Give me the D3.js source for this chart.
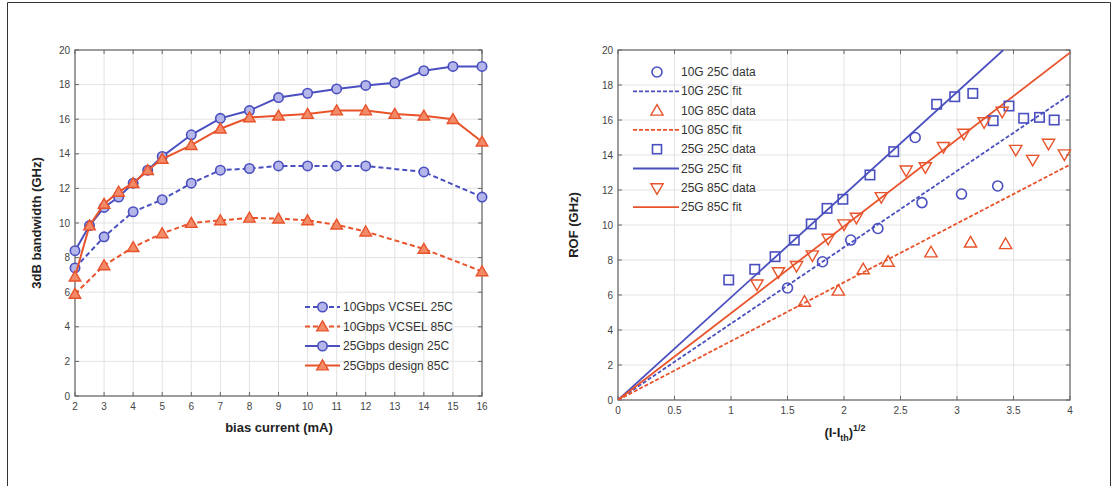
<!DOCTYPE html>
<html><head><meta charset="utf-8">
<script src="https://cdn.jsdelivr.net/npm/d3@7"></script>
<style>body{margin:0;background:#fff}svg{display:block}text{font-family:"Liberation Sans",Arial,sans-serif}</style>
</head><body><svg id="c" width="1117" height="486"></svg>
<script>
// ---------- Left chart data ----------
const biasSolid = [2,2.5,3,3.5,4,4.5,5,6,7,8,9,10,11,12,13,14,15,16];
const biasDashed = [2,3,4,5,6,7,8,9,10,11,12,14,16];
const bw10G25C = [7.4,9.2,10.65,11.35,12.3,13.05,13.15,13.3,13.3,13.3,13.3,12.95,11.5];
const bw10G85C = [5.9,7.55,8.6,9.4,10.0,10.15,10.3,10.25,10.15,9.9,9.5,8.5,7.2];
const bw25G25C = [8.4,9.85,10.9,11.5,12.3,13.05,13.85,15.1,16.05,16.5,17.25,17.5,17.75,17.95,18.1,18.8,19.05,19.05];
const bw25G85C = [6.9,9.85,11.1,11.8,12.3,13.05,13.7,14.5,15.45,16.1,16.2,16.3,16.5,16.5,16.3,16.2,16.0,14.7];
const leftLegend = ["10Gbps VCSEL 25C","10Gbps VCSEL 85C","25Gbps design 25C","25Gbps design 85C"];
const leftXTicks = [2,3,4,5,6,7,8,9,10,11,12,13,14,15,16];
const leftYTicks = [0,2,4,6,8,10,12,14,16,18,20];

// ---------- Right chart data ----------
const rof10G25CX = [1.5,1.81,2.06,2.30,2.63,2.69,3.04,3.36];
const rof10G25CY = [6.4,7.9,9.14,9.8,15.0,11.28,11.77,12.23];
const rof10G85CX = [1.65,1.95,2.17,2.39,2.77,3.12,3.43];
const rof10G85CY = [5.62,6.25,7.47,7.9,8.44,9.0,8.91];
const rof25G25CX = [0.98,1.21,1.39,1.56,1.71,1.85,1.99,2.23,2.44,2.82,2.98,3.14,3.32,3.46,3.59,3.73,3.86];
const rof25G25CY = [6.86,7.47,8.19,9.14,10.06,10.95,11.47,12.86,14.19,16.9,17.33,17.52,15.96,16.8,16.1,16.15,16.0];
const rof25G85CX = [1.23,1.42,1.58,1.72,1.86,2.0,2.11,2.33,2.55,2.72,2.88,3.06,3.24,3.4,3.52,3.67,3.81,3.95];
const rof25G85CY = [6.63,7.33,7.68,8.29,9.24,10.06,10.44,11.62,13.14,13.33,14.48,15.24,15.9,16.5,14.32,13.75,14.67,14.06];
const fit10G25C = [[0,0],[4,17.45]];
const fit10G85C = [[0,0],[4,13.45]];
const fit25G25C = [[0,0],[3.41,20]];
const fit25G85C = [[0,0],[4,19.85]];
const rightLegend = ["10G 25C data","10G 25C fit","10G 85C data","10G 85C fit","25G 25C data","25G 25C fit","25G 85C data","25G 85C fit"];
const rightXTicks = [0,0.5,1,1.5,2,2.5,3,3.5,4];
const rightYTicks = [0,2,4,6,8,10,12,14,16,18,20];

const BLUE = "#4a4fbf", RED = "#e8532b";
const BLUE_FILL = "#b4b6ea", RED_FILL = "#f28a68";
const svg = d3.select("#c");

// outer frame
svg.append("path").attr("d","M7.5,490 V2.5 H1110.5 V490").attr("fill","none").attr("stroke","#333").attr("stroke-width",1);

function frame(g, x, y, xt, yt, xfmt, yx, xy) {
  const [x0,x1] = x.range(), [y0,y1] = y.range();
  g.append("g").selectAll("line").data(xt).join("line")
    .attr("x1",d=>x(d)).attr("x2",d=>x(d)).attr("y1",y0).attr("y2",y1)
    .attr("stroke","#e3e3e3").attr("stroke-width",1);
  g.append("g").selectAll("line").data(yt).join("line")
    .attr("y1",d=>y(d)).attr("y2",d=>y(d)).attr("x1",x0).attr("x2",x1)
    .attr("stroke","#e3e3e3").attr("stroke-width",1);
  g.append("rect").attr("x",x0).attr("y",y1).attr("width",x1-x0).attr("height",y0-y1)
    .attr("fill","none").attr("stroke","#666").attr("stroke-width",1.2);
  const t = g.append("g").attr("stroke","#666");
  xt.forEach(d=>{
    t.append("line").attr("x1",x(d)).attr("x2",x(d)).attr("y1",y0).attr("y2",y0-4);
    t.append("line").attr("x1",x(d)).attr("x2",x(d)).attr("y1",y1).attr("y2",y1+4);
  });
  yt.forEach(d=>{
    t.append("line").attr("y1",y(d)).attr("y2",y(d)).attr("x1",x0).attr("x2",x0+4);
    t.append("line").attr("y1",y(d)).attr("y2",y(d)).attr("x1",x1).attr("x2",x1-4);
  });
  g.append("g").selectAll("text").data(xt).join("text")
    .attr("x",d=>x(d)).attr("y",xy).attr("text-anchor","middle")
    .attr("font-size",10).attr("fill","#444").text(xfmt);
  g.append("g").selectAll("text").data(yt).join("text")
    .attr("x",yx).attr("y",d=>y(d)+3.5).attr("text-anchor","end")
    .attr("font-size",10).attr("fill","#444").text(d=>d);
}

function marker(g, type, cx, cy, color, fill, s) {
  if (type==="circle") {
    g.append("circle").attr("cx",cx).attr("cy",cy).attr("r",s)
      .attr("fill",fill).attr("stroke",color).attr("stroke-width",1.6);
  } else if (type==="square") {
    g.append("rect").attr("x",cx-s).attr("y",cy-s).attr("width",2*s).attr("height",2*s)
      .attr("fill",fill).attr("stroke",color).attr("stroke-width",1.6);
  } else {
    const sym = d3.symbol().type(d3.symbolTriangle).size(s*s*2.6);
    g.append("path").attr("d",sym())
      .attr("transform",`translate(${cx},${cy+ (type==="tridown"? -0.5:1)}) rotate(${type==="tridown"?180:0})`)
      .attr("fill",fill).attr("stroke",color).attr("stroke-width",1.4);
  }
}

// ================= LEFT CHART =================
{
  const x = d3.scaleLinear().domain([2,16]).range([75,482]);
  const y = d3.scaleLinear().domain([0,20]).range([396,50]);
  const g = svg.append("g");
  frame(g, x, y, leftXTicks, leftYTicks, d=>d, 70, 410);
  const series = [
    {xs:biasDashed, ys:bw10G25C, c:BLUE, f:BLUE_FILL, m:"circle", dash:"5,3"},
    {xs:biasDashed, ys:bw10G85C, c:RED, f:RED_FILL, m:"tri", dash:"5,3"},
    {xs:biasSolid, ys:bw25G25C, c:BLUE, f:BLUE_FILL, m:"circle", dash:null},
    {xs:biasSolid, ys:bw25G85C, c:RED, f:RED_FILL, m:"tri", dash:null}
  ];
  const line = d3.line().x(d=>x(d[0])).y(d=>y(d[1]));
  series.forEach(s=>{
    const pts = s.xs.map((v,i)=>[v,s.ys[i]]);
    g.append("path").attr("d",line(pts)).attr("fill","none").attr("stroke",s.c)
      .attr("stroke-width",2).attr("stroke-dasharray",s.dash);
    pts.forEach(p=>marker(g,s.m,x(p[0]),y(p[1]),s.c,s.f,4.7));
  });
  const lg = g.append("g");
  series.forEach((s,i)=>{
    const yy = 307 + i*19.5;
    lg.append("line").attr("x1",305).attr("x2",340).attr("y1",yy).attr("y2",yy)
      .attr("stroke",s.c).attr("stroke-width",2).attr("stroke-dasharray",s.dash);
    marker(lg,s.m,322.5,yy,s.c,s.f,4.7);
    lg.append("text").attr("x",343).attr("y",yy+4).attr("font-size",12).attr("fill","#333").text(leftLegend[i]);
  });
  g.append("text").attr("x",279).attr("y",432).attr("text-anchor","middle")
    .attr("font-size",13).attr("font-weight","bold").attr("fill","#222").text("bias current (mA)");
  g.append("text").attr("transform","translate(41,223) rotate(-90)").attr("text-anchor","middle")
    .attr("font-size",13).attr("font-weight","bold").attr("fill","#222").text("3dB bandwidth (GHz)");
}

// ================= RIGHT CHART =================
{
  const x = d3.scaleLinear().domain([0,4]).range([618,1070]);
  const y = d3.scaleLinear().domain([0,20]).range([400,50]);
  const g = svg.append("g");
  frame(g, x, y, rightXTicks, rightYTicks, d=>d, 613, 414);
  svg.append("clipPath").attr("id","rc").append("rect").attr("x",618).attr("y",50).attr("width",452).attr("height",350);
  const line = d3.line().x(d=>x(d[0])).y(d=>y(d[1]));
  const fits = [
    {d:fit10G25C, c:BLUE, dash:"4,2"},
    {d:fit10G85C, c:RED, dash:"4,2"},
    {d:fit25G25C, c:BLUE, dash:null},
    {d:fit25G85C, c:RED, dash:null}
  ];
  fits.forEach(f=>{
    g.append("path").attr("d",line(f.d)).attr("clip-path","url(#rc)").attr("fill","none")
      .attr("stroke",f.c).attr("stroke-width",1.8).attr("stroke-dasharray",f.dash);
  });
  const data = [
    {xs:rof10G25CX, ys:rof10G25CY, c:BLUE, m:"circle"},
    {xs:rof10G85CX, ys:rof10G85CY, c:RED, m:"tri"},
    {xs:rof25G25CX, ys:rof25G25CY, c:BLUE, m:"square"},
    {xs:rof25G85CX, ys:rof25G85CY, c:RED, m:"tridown"}
  ];
  data.forEach(s=>{
    s.xs.forEach((v,i)=>marker(g,s.m,x(v),y(s.ys[i]),s.c,"none",s.m==="square"?4.7:5));
  });
  const lg = g.append("g");
  rightLegend.forEach((t,i)=>{
    const yy = 72 + i*19.3;
    if (i%2===0) {
      const s = data[i/2];
      marker(lg,s.m,657,yy,s.c,"none",s.m==="square"?4.5:5);
    } else {
      const f = fits[(i-1)/2];
      lg.append("line").attr("x1",633).attr("x2",679).attr("y1",yy).attr("y2",yy)
        .attr("stroke",f.c).attr("stroke-width",1.8).attr("stroke-dasharray",f.dash);
    }
    lg.append("text").attr("x",681).attr("y",yy+4).attr("font-size",12).attr("fill","#333").text(t);
  });
  g.append("text").attr("transform","translate(578,225) rotate(-90)").attr("text-anchor","middle")
    .attr("font-size",13).attr("font-weight","bold").attr("fill","#222").text("ROF (GHz)");
  const xl = g.append("text").attr("x",845).attr("y",437).attr("text-anchor","middle")
    .attr("font-size",13).attr("font-weight","bold").attr("fill","#222");
  xl.append("tspan").text("(I-I");
  xl.append("tspan").attr("font-size",9).attr("dy",4).text("th");
  xl.append("tspan").attr("dy",-4).text(")");
  xl.append("tspan").attr("font-size",9).attr("dy",-6).text("1/2");
}
</script></body></html>
